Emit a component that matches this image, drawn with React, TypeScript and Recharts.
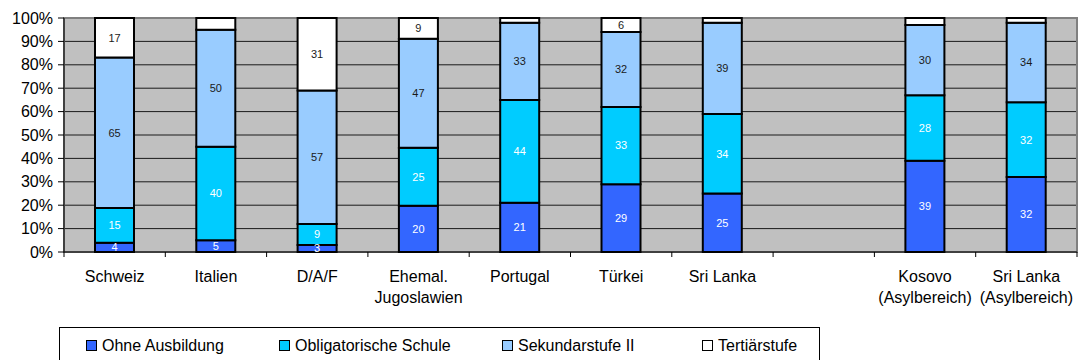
import { BarChart, Bar, XAxis, YAxis, CartesianGrid, Legend, LabelList, ReferenceArea } from 'recharts'

// Bildungsstand nach Herkunft, Anteile in Prozent
const categories = [
  'Schweiz',
  'Italien',
  'D/A/F',
  'Ehemal.\nJugoslawien',
  'Portugal',
  'Türkei',
  'Sri Lanka',
  '',
  'Kosovo\n(Asylbereich)',
  'Sri Lanka\n(Asylbereich)'
]
const ohneAusbildung = [4, 5, 3, 20, 21, 29, 25, null, 39, 32]
const obligatorischeSchule = [15, 40, 9, 25, 44, 33, 34, null, 28, 32]
const sekundarstufe = [65, 50, 57, 47, 33, 32, 39, null, 30, 34]
const tertiaerstufe = [17, 5, 31, 9, 2, 6, 2, null, 3, 2]

const yTicks = [0, 0.1, 0.2, 0.3, 0.4, 0.5, 0.6, 0.7, 0.8, 0.9, 1]

const SERIES = [
  { key: 'ohne', name: 'Ohne Ausbildung', color: '#3366FF', labelColor: '#ffffff', minLabel: 0, legendW: 193 },
  { key: 'oblig', name: 'Obligatorische Schule', color: '#00CCFF', labelColor: '#ffffff', minLabel: 0, legendW: 223 },
  { key: 'sek', name: 'Sekundarstufe II', color: '#99CCFF', labelColor: '#1a1a1a', minLabel: 0, legendW: 200 },
  { key: 'tert', name: 'Tertiärstufe', color: '#FFFFFF', labelColor: '#1a1a1a', minLabel: 6, legendW: 110 }
]

const data = categories.map((name, i) => ({
  name,
  ohne: ohneAusbildung[i],
  oblig: obligatorischeSchule[i],
  sek: sekundarstufe[i],
  tert: tertiaerstufe[i]
}))

const FONT = '"Liberation Sans", Arial, sans-serif'
const WIDTH = 1078
const HEIGHT = 360
const MARGIN = { top: 18, right: 1, bottom: 12, left: 4 }
const Y_AXIS_W = 60
const BAND = (WIDTH - MARGIN.left - MARGIN.right - Y_AXIS_W) / categories.length

const CategoryTick = ({ x, y, payload, index }: any) => {
  const lines = String(payload.value).split('\n')
  const half = BAND / 2
  return (
    <g>
      <line x1={x - half} x2={x - half} y1={y} y2={y + 5} stroke="#000" />
      {index === categories.length - 1 && (
        <line x1={x + half} x2={x + half} y1={y} y2={y + 5} stroke="#000" />
      )}
      <text x={x} y={y + 30} textAnchor="middle" fontSize={16} fill="#000" fontFamily={FONT}>
        {lines.map((l, i) => (
          <tspan key={i} x={x} dy={i === 0 ? 0 : 21}>{l}</tspan>
        ))}
      </text>
    </g>
  )
}

const LegendBox = () => (
  <div
    style={{
      boxSizing: 'border-box',
      height: 36,
      border: '1px solid #000',
      borderBottom: 'none',
      display: 'flex',
      alignItems: 'center',
      paddingLeft: 26,
      fontFamily: FONT,
      fontSize: 16,
      color: '#000',
      background: '#fff'
    }}
  >
    {SERIES.map(s => (
      <div
        key={s.key}
        style={{ display: 'flex', alignItems: 'center', gap: 5, width: s.legendW, flex: 'none' }}
      >
        <span
          style={{
            display: 'inline-block',
            width: 9,
            height: 9,
            border: '1px solid #000',
            background: s.color
          }}
        />
        <span>{s.name}</span>
      </div>
    ))}
  </div>
)

export default function App() {
  return (
    <div style={{ position: 'absolute', left: 0, top: 0, background: '#fff' }}>
      <BarChart
        width={WIDTH}
        height={HEIGHT}
        data={data}
        margin={MARGIN}
        stackOffset="expand"
        style={{ fontFamily: FONT }}
      >
        <CartesianGrid vertical={false} stroke="#1a1a1a" fill="#C0C0C0" fillOpacity={1} />
        <XAxis
          dataKey="name"
          interval={0}
          height={60}
          tickSize={0}
          tickMargin={0}
          tickLine={false}
          axisLine={{ stroke: '#000', strokeWidth: 1 }}
          tick={<CategoryTick />}
        />
        <YAxis
          width={Y_AXIS_W}
          domain={[0, 1]}
          ticks={yTicks}
          tickSize={6}
          tickMargin={5}
          tickFormatter={(v: number) => `${Math.round(v * 100)}%`}
          tick={{ fontSize: 16, fill: '#000', fontFamily: FONT }}
          tickLine={{ stroke: '#000' }}
          axisLine={{ stroke: '#000' }}
        />
        <ReferenceArea y1={0} y2={1} fill="none" stroke="#808080" strokeWidth={2} />
        {SERIES.map(s => (
          <Bar
            key={s.key}
            dataKey={s.key}
            name={s.name}
            stackId="a"
            fill={s.color}
            stroke="#000"
            strokeWidth={2}
            barSize={39}
            isAnimationActive={false}
          >
            <LabelList
              dataKey={s.key}
              position="center"
              fill={s.labelColor}
              fontSize={11}
              fontFamily={FONT}
              formatter={(v: any) => (v == null || v < s.minLabel ? '' : v)}
            />
          </Bar>
        ))}
        <Legend
          verticalAlign="bottom"
          content={<LegendBox />}
          wrapperStyle={{ left: 59, top: 327, bottom: 'auto', width: 761, height: 36 }}
        />
      </BarChart>
    </div>
  )
}
